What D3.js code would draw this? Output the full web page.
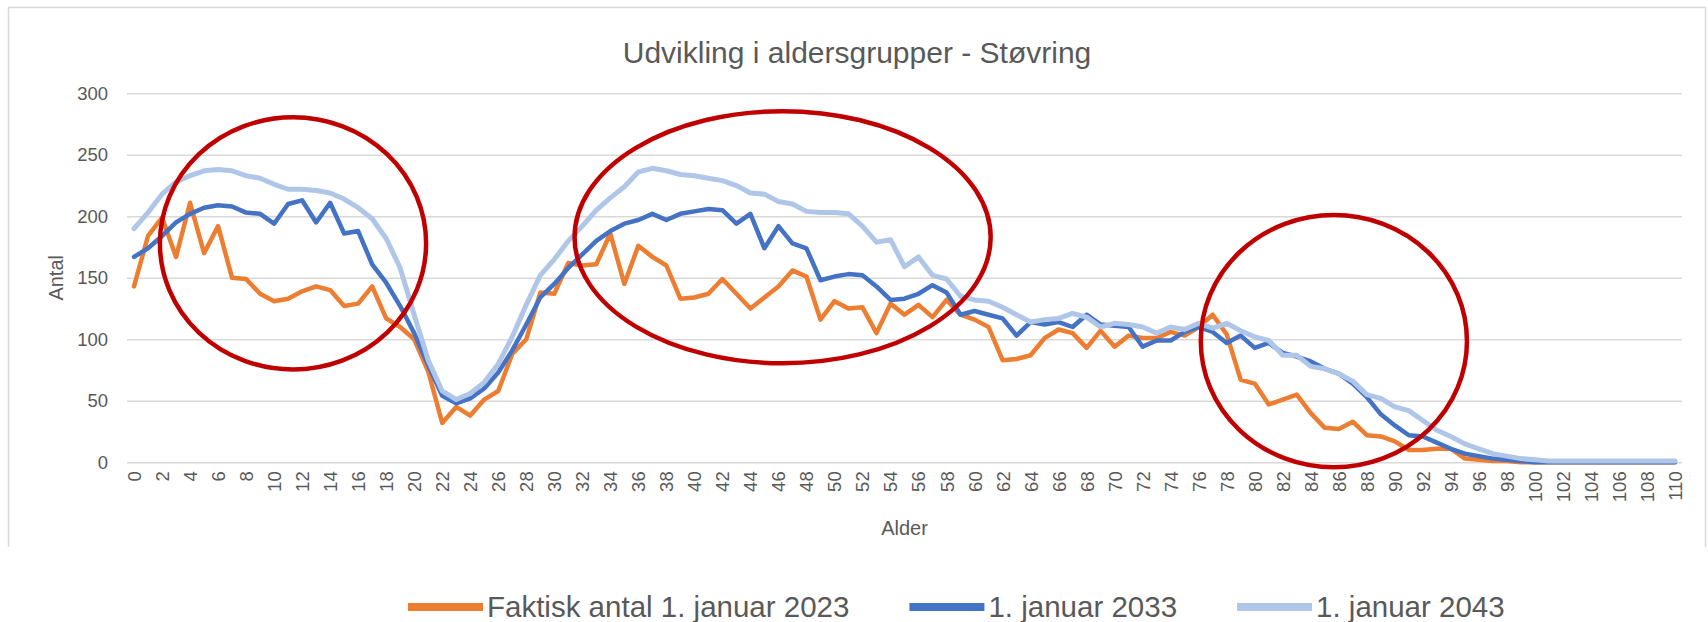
<!DOCTYPE html>
<meta charset="utf-8" />

<script src="https://d3js.org/d3.v7.min.js"></script>

<style>
	body {
		margin: 0;
		background: #fff;
	}
	#chart svg {
		display: block;
		font-family: "Liberation Sans", Arial, sans-serif;
	}
</style>
<div id="chart"></div>

<script>
	// Ages 0..110 (categories) and y tick values
	const ages = d3.range(0, 111);
	const yTicks = [0, 50, 100, 150, 200, 250, 300];

	const seriesNames = ["Faktisk antal 1. januar 2023", "1. januar 2033", "1. januar 2043"];

	// Values, one per age 0..110
	const actual2023 = [
		143, 184, 199, 167, 211, 170, 192, 150, 149, 137,
		131, 133, 139, 143, 140, 127, 129, 143, 117, 110,
		100, 74, 32, 45, 38, 51, 58, 88, 100, 138,
		137, 162, 160, 161, 186, 145, 176, 167, 160, 133,
		134, 137, 149, 137, 125, 134, 143, 156, 151, 116,
		131, 125, 126, 105, 129, 120, 128, 118, 132, 120,
		116, 110, 83, 84, 87, 101, 108, 105, 93, 107,
		94, 103, 101, 101, 106, 103, 110, 120, 104, 67,
		64, 47, 51, 55, 40, 28, 27, 33, 22, 21,
		17, 10, 10, 11, 11, 3, 2, 1, 1, 0,
		0, 0, 0, 0, 0, 0, 0, 0, 0, 0, 0
	];
	const proj2033 = [
		167, 174, 184, 195, 202, 207, 209, 208, 203, 202,
		194, 210, 213, 195, 211, 186, 188, 161, 146, 127,
		105, 79, 54, 48, 52, 60, 73, 91, 112, 134,
		145, 158, 169, 180, 188, 194, 197, 202, 197, 202,
		204, 206, 205, 194, 202, 174, 192, 178, 174, 148,
		151, 153, 152, 143, 132, 133, 137, 144, 138, 120,
		123, 120, 117, 103, 114, 112, 114, 110, 120, 112,
		111, 110, 94, 99, 99, 106, 110, 106, 97, 103,
		93, 97, 89, 86, 82, 76, 72, 64, 53, 39,
		30, 22, 21, 16, 11, 7, 5, 3, 2, 1,
		0, 0, 0, 0, 0, 0, 0, 0, 0, 0, 0
	];
	const proj2043 = [
		190, 203, 218, 228, 233, 237, 238, 237, 233, 231,
		226, 222, 222, 221, 219, 214, 207, 198, 182, 158,
		120, 83, 58, 51, 56, 65, 80, 102, 128, 152,
		165, 180, 192, 205, 215, 224, 236, 239, 237, 234,
		233, 231, 229, 225, 219, 218, 212, 210, 204, 203,
		203, 202, 192, 179, 181, 159, 167, 152, 149, 135,
		132, 131, 126, 120, 114, 116, 117, 121, 118, 110,
		113, 112, 110, 105, 110, 108, 113, 109, 113, 107,
		102, 99, 87, 87, 78, 76, 72, 66, 55, 52,
		45, 42, 34, 26, 21, 15, 11, 7, 5, 3,
		2, 1, 1, 1, 1, 1, 1, 1, 1, 1, 1
	];

	const series = [
		{ name: seriesNames[0], values: actual2023, color: "#ED7D31", width: 4.5 },
		{ name: seriesNames[1], values: proj2033, color: "#4472C4", width: 4.5 },
		{ name: seriesNames[2], values: proj2043, color: "#B0C6E9", width: 5 }
	];

	// Red hand-drawn rings, in age / value units
	const rings = [
		{ age: 11.35, value: 178, rAge: 9.5, rValue: 102.5 },
		{ age: 46.3, value: 183, rAge: 14.85, rValue: 102.5 },
		{ age: 85.65, value: 98.5, rAge: 9.5, rValue: 102.5 }
	];

	const width = 1708;
	const height = 622;
	const plot = { left: 127, right: 1682, top: 93.3, bottom: 462.3 };
	const grey = "#595959";

	const svg = d3
		.select("#chart")
		.append("svg")
		.attr("width", width)
		.attr("height", height);

	svg.append("rect").attr("width", width).attr("height", height).attr("fill", "#fff");

	// chart frame (open at the bottom, as in the picture)
	svg.append("path")
		.attr("d", "M8.5,547 V7.5 H1705.5 V547")
		.attr("fill", "none")
		.attr("stroke", "#d9d9d9")
		.attr("stroke-width", 1.5);

	const x = d3
		.scalePoint()
		.domain(ages)
		.range([plot.left, plot.right])
		.padding(0.5);
	const ageScale = d3
		.scaleLinear()
		.domain([0, 110])
		.range([x(0), x(110)]);
	const y = d3.scaleLinear().domain([0, 300]).range([plot.bottom, plot.top]);

	// y axis with gridlines
	const yAxis = d3
		.axisLeft(y)
		.tickValues(yTicks)
		.tickSize(-(plot.right - plot.left))
		.tickPadding(19);

	const gy = svg
		.append("g")
		.attr("transform", "translate(" + plot.left + ",0)")
		.call(yAxis);
	gy.select(".domain").remove();
	gy.selectAll("line").attr("stroke", "#d9d9d9").attr("stroke-width", 1.5);
	gy.selectAll("text")
		.attr("fill", grey)
		.style("font-size", "18.5px");

	// x axis: every second age, rotated labels
	const xAxis = d3
		.axisBottom(x)
		.tickValues(ages.filter(a => a % 2 === 0))
		.tickSize(0);

	const gx = svg
		.append("g")
		.attr("transform", "translate(0," + plot.bottom + ")")
		.call(xAxis);
	gx.select(".domain").remove();
	gx.selectAll("text")
		.attr("fill", grey)
		.style("font-size", "18.5px")
		.attr("transform", "rotate(-90)")
		.attr("text-anchor", "end")
		.attr("x", -9)
		.attr("y", 0)
		.attr("dy", "0.35em");

	// lines
	const line = d3
		.line()
		.x((d, i) => x(ages[i]))
		.y(d => y(d));

	svg.selectAll(".series")
		.data(series)
		.enter()
		.append("path")
		.attr("class", "series")
		.attr("fill", "none")
		.attr("stroke", d => d.color)
		.attr("stroke-width", d => d.width)
		.attr("stroke-linejoin", "round")
		.attr("stroke-linecap", "round")
		.attr("d", d => line(d.values));

	// red rings
	svg.selectAll(".ring")
		.data(rings)
		.enter()
		.append("ellipse")
		.attr("class", "ring")
		.attr("cx", d => ageScale(d.age))
		.attr("cy", d => y(d.value))
		.attr("rx", d => ageScale(d.rAge) - ageScale(0))
		.attr("ry", d => y(0) - y(d.rValue))
		.attr("fill", "none")
		.attr("stroke", "#C00000")
		.attr("stroke-width", 4.5);

	// title and axis titles
	svg.append("text")
		.attr("x", 857)
		.attr("y", 63)
		.attr("text-anchor", "middle")
		.attr("fill", grey)
		.style("font-size", "30px")
		.text("Udvikling i aldersgrupper - Støvring");

	svg.append("text")
		.attr("transform", "translate(63," + (plot.top + plot.bottom) / 2 + ") rotate(-90)")
		.attr("text-anchor", "middle")
		.attr("fill", grey)
		.style("font-size", "20px")
		.text("Antal");

	svg.append("text")
		.attr("x", (plot.left + plot.right) / 2)
		.attr("y", 535)
		.attr("text-anchor", "middle")
		.attr("fill", grey)
		.style("font-size", "20px")
		.text("Alder");

	// legend
	const legendY = 607;
	let lx = 408;
	series.forEach(s => {
		svg.append("line")
			.attr("x1", lx)
			.attr("x2", lx + 75)
			.attr("y1", legendY)
			.attr("y2", legendY)
			.attr("stroke", s.color)
			.attr("stroke-width", 8);
		const t = svg
			.append("text")
			.attr("x", lx + 79)
			.attr("y", legendY + 10)
			.attr("fill", grey)
			.style("font-size", "29.5px")
			.text(s.name);
		lx += 79 + t.node().getComputedTextLength() + 60;
	});
</script>
